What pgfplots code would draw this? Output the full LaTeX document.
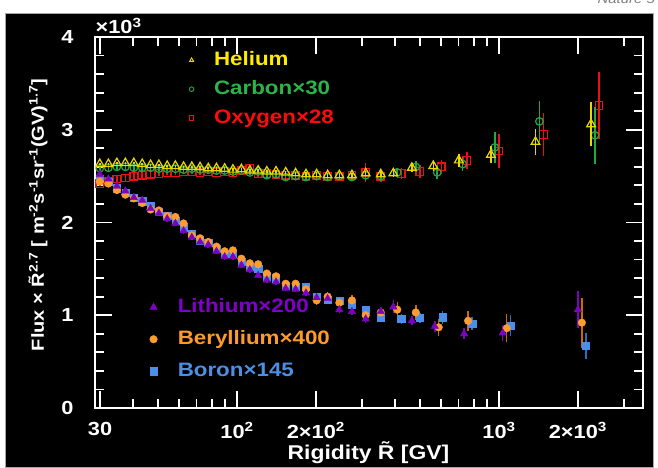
\documentclass[border=0pt]{standalone}
\usepackage{fontspec}
\setmainfont{Liberation Sans}[FakeStretch=1.15]
\usepackage{pgfplots}
\pgfplotsset{compat=1.18}
\usepackage{pgfplotstable}
\definecolor{heC}{HTML}{E8D800}
\definecolor{cC}{HTML}{22A83E}
\definecolor{oC}{HTML}{EE1010}
\definecolor{liC}{HTML}{7B05BF}
\definecolor{beC}{HTML}{FF9C2E}
\definecolor{beE}{HTML}{CC6A00}
\definecolor{bC}{HTML}{4B8FEA}
\definecolor{bE}{HTML}{2E6CC4}
\definecolor{heT}{HTML}{FFEB00}
\definecolor{cT}{HTML}{2DB34A}
\definecolor{oT}{HTML}{FF0A0A}
\definecolor{liT}{HTML}{8000C8}
\definecolor{beT}{HTML}{FF9A2A}
\definecolor{bT}{HTML}{4C8FE6}

\pgfplotstableread{
x y e
29.93 2.63 0.012
32.28 2.63 0.012
34.78 2.64 0.012
37.47 2.64 0.012
40.37 2.64 0.012
43.47 2.63 0.012
46.77 2.62 0.012
50.32 2.62 0.012
54.12 2.61 0.012
58.16 2.61 0.013
62.51 2.60 0.013
67.21 2.60 0.013
72.25 2.595 0.013
77.65 2.585 0.013
83.45 2.585 0.014
89.69 2.58 0.014
96.44 2.57 0.014
103.9 2.575 0.015
111.9 2.56 0.015
120.4 2.56 0.016
129.9 2.55 0.016
140.9 2.55 0.017
153.4 2.54 0.018
167.3 2.53 0.019
183.3 2.52 0.02
201.3 2.52 0.021
221.7 2.51 0.022
245.7 2.51 0.024
274.5 2.51 0.026
309.9 2.53 0.028
353.7 2.52 0.03
394.9 2.53 0.035
464.8 2.59 0.045
561.2 2.61 0.05
702.3 2.67 0.07
931 2.73 0.09
1377.5 2.87 0.14
2245 3.06 0.24
}\He
\pgfplotstableread{
x y e
29.93 2.585 0.03
32.28 2.59 0.03
34.78 2.60 0.03
37.47 2.60 0.03
40.37 2.59 0.03
43.47 2.59 0.03
46.77 2.59 0.03
50.32 2.58 0.03
54.12 2.58 0.03
58.16 2.58 0.03
62.51 2.57 0.03
67.21 2.58 0.03
72.25 2.57 0.03
77.65 2.57 0.03
83.45 2.56 0.03
89.69 2.56 0.03
96.44 2.55 0.03
103.9 2.56 0.03
111.9 2.54 0.03
120.4 2.55 0.03
129.9 2.51 0.03
140.9 2.52 0.03
153.4 2.49 0.035
167.3 2.50 0.035
183.3 2.49 0.035
201.3 2.50 0.04
221.7 2.49 0.04
245.7 2.50 0.04
274.5 2.49 0.045
309.9 2.51 0.05
353.7 2.50 0.05
408.8 2.54 0.05
481.2 2.60 0.06
581 2.54 0.07
727 2.63 0.08
963.8 2.81 0.17
1426 3.09 0.22
2324 2.94 0.31
}\Ca
\pgfplotstableread{
x y e
29.93 2.42 0.03
32.28 2.44 0.03
34.78 2.47 0.03
37.47 2.48 0.03
40.37 2.50 0.03
43.47 2.51 0.03
46.77 2.52 0.03
50.32 2.53 0.03
54.12 2.54 0.03
58.16 2.54 0.03
62.51 2.55 0.03
67.21 2.55 0.03
72.25 2.54 0.03
77.65 2.55 0.03
83.45 2.54 0.03
89.69 2.55 0.03
96.44 2.54 0.035
103.9 2.56 0.035
111.9 2.585 0.04
120.4 2.53 0.04
129.9 2.53 0.04
140.9 2.52 0.04
153.4 2.51 0.04
167.3 2.51 0.045
183.3 2.50 0.045
201.3 2.51 0.05
221.7 2.50 0.05
245.7 2.50 0.05
274.5 2.51 0.055
309.9 2.54 0.1
353.7 2.50 0.06
423.5 2.53 0.06
498.5 2.55 0.065
601.9 2.60 0.075
753.2 2.67 0.09
998.5 2.77 0.18
1477.3 2.95 0.23
2407.7 3.26 0.36
}\Ox
\pgfplotstableread{
x y e
29.93 2.52 0.03
32.28 2.47 0.03
34.78 2.39 0.03
37.47 2.34 0.03
40.37 2.27 0.03
43.47 2.24 0.03
46.77 2.15 0.03
50.32 2.10 0.03
54.12 2.04 0.03
58.16 1.99 0.03
62.51 1.91 0.03
67.21 1.84 0.03
72.25 1.79 0.03
77.65 1.76 0.03
83.45 1.69 0.03
89.69 1.63 0.03
96.44 1.63 0.03
103.9 1.54 0.03
111.9 1.49 0.03
120.4 1.43 0.03
129.9 1.38 0.03
140.9 1.36 0.03
153.4 1.29 0.03
167.3 1.28 0.03
183.3 1.24 0.035
201.3 1.19 0.035
221.7 1.18 0.04
245.7 1.06 0.04
274.5 1.04 0.04
309.9 0.96 0.045
353.7 1.04 0.05
394.9 1.09 0.07
464.8 0.94 0.05
568.6 0.88 0.06
736.1 0.80 0.06
1033.2 0.81 0.085
2000.6 1.06 0.2
}\Li
\pgfplotstableread{
x y e
29.93 2.44 0.04
32.28 2.42 0.04
34.78 2.35 0.04
37.47 2.30 0.04
40.37 2.26 0.04
43.47 2.21 0.04
46.77 2.14 0.04
50.32 2.13 0.04
54.12 2.07 0.04
58.16 2.06 0.04
62.51 1.99 0.04
67.21 1.86 0.04
72.25 1.83 0.04
77.65 1.79 0.04
83.45 1.74 0.04
89.69 1.69 0.04
96.44 1.70 0.04
103.9 1.61 0.04
111.9 1.56 0.04
120.4 1.55 0.04
129.9 1.45 0.04
140.9 1.42 0.04
153.4 1.34 0.045
167.3 1.34 0.045
183.3 1.28 0.045
201.3 1.16 0.05
221.7 1.20 0.05
245.7 1.135 0.05
274.5 1.16 0.055
309.9 1.00 0.06
353.7 1.03 0.06
408.8 1.06 0.08
481.2 1.03 0.08
588.6 0.87 0.09
762 0.94 0.11
1069.6 0.86 0.15
2071 0.92 0.27
}\Be
\pgfplotstableread{
x y e
29.93 2.47 0.025
32.28 2.44 0.025
34.78 2.37 0.025
37.47 2.32 0.025
40.37 2.27 0.025
43.47 2.23 0.025
46.77 2.18 0.025
50.32 2.12 0.025
54.12 2.07 0.025
58.16 2.02 0.025
62.51 1.95 0.025
67.21 1.88 0.025
72.25 1.81 0.025
77.65 1.78 0.025
83.45 1.72 0.025
89.69 1.66 0.025
96.44 1.66 0.025
103.9 1.58 0.025
111.9 1.52 0.025
120.4 1.50 0.025
129.9 1.42 0.025
140.9 1.40 0.03
153.4 1.32 0.03
167.3 1.31 0.03
183.3 1.31 0.03
201.3 1.20 0.03
221.7 1.17 0.035
245.7 1.16 0.035
274.5 1.11 0.035
309.9 1.06 0.04
353.7 0.98 0.04
423.5 0.96 0.05
498.5 0.97 0.05
609.8 0.98 0.07
789.4 0.91 0.07
1108.1 0.89 0.11
2145.6 0.67 0.14
}\Bo

\newcommand\F[1]{\fontsize{#1}{#1}\selectfont\bfseries}

\pgfplotsset{
  legend image code/.code={\path (-5bp,-5bp) (5bp,5bp); \draw[#1] plot coordinates {(0bp,0bp)};},
}

\begin{document}
\begin{tikzpicture}
\useasboundingbox (0,0) rectangle (658bp,468bp);
\fill[white] (0,0) rectangle (658bp,468bp);
\filldraw[fill=black, draw=gray!70, line width=0.8bp] (5bp,1bp) rectangle (653bp,455bp);
\node[anchor=base east, text=gray, inner sep=0pt, font=\itshape\fontsize{13}{13}\selectfont] at (655bp,464bp) {Nature 5};

\begin{axis}[
  at={(95bp,60bp)}, anchor=south west,
  scale only axis, width=548bp, height=371bp,
  xmode=log, xmin=28.7, xmax=3545, ymin=0, ymax=4,
  clip mode=individual,
  axis line style={white, line width=2.2bp},
  tick style={white, line width=1.8bp},
  tick align=inside,
  major tick length=17bp, minor tick length=9bp,
  ytick={0,1,2,3,4}, yticklabels={0,1,2,3,4},
  minor y tick num=4,
  xtick={100,1000}, xticklabels={{10\textsuperscript{2}},{10\textsuperscript{3}}},
  minor xtick={30,40,50,60,70,80,90,200,300,400,500,600,700,800,900,2000,3000},
  extra x ticks={30,200,2000},
  extra x tick labels={30,{2×10\textsuperscript{2}},{2×10\textsuperscript{3}}},
  tick label style={text=white, font=\F{19}},
  xticklabel style={yshift=-11bp},
  yticklabel style={xshift=-18bp},
  xlabel={Rigidity \~{R} [GV]},
  xlabel style={text=white, font=\F{20}, at={(axis description cs:0.499,-0.121)}, anchor=center},
  ylabel={Flux × \~{R}\textsuperscript{2.7} [ m\textsuperscript{-2}s\textsuperscript{-1}sr\textsuperscript{-1}(GV)\textsuperscript{1.7}]},
  ylabel style={text=white, font=\F{17.5}, at={(axis description cs:-0.104,0.52)}, anchor=center},
  reverse legend,
  legend style={at={(rel axis cs:0.166,0.965)}, anchor=north west, draw=none, fill=none,
    inner sep=0pt, row sep=9bp, font=\F{19.5},
    nodes={inner sep=1bp, text height=14bp, text depth=4bp}},
  legend cell align=left,
  legend image post style={mark size=2.3bp, line width=0.9bp},
  /tikz/every odd column/.append style={column sep=16bp},
]
\addplot[only marks, mark=square, mark size=3.8bp, color=oC, line width=1.2bp,
  error bars/.cd, y dir=both, y explicit, error mark=none, error bar style={line width=1.5bp, oC}]
  table[x=x,y=y,y error=e]{\Ox};
\addlegendentry{\textcolor{oT}{Oxygen×28}}
\addplot[only marks, mark=o, mark size=3.8bp, color=cC, line width=1.2bp,
  error bars/.cd, y dir=both, y explicit, error mark=none, error bar style={line width=1.5bp, cC}]
  table[x=x,y=y,y error=e]{\Ca};
\addlegendentry{\textcolor{cT}{Carbon×30}}
\addplot[only marks, mark=triangle, mark size=5bp, color=heC, line width=1.2bp,
  error bars/.cd, y dir=both, y explicit, error mark=none, error bar style={line width=1.5bp, heC}]
  table[x=x,y=y,y error=e]{\He};
\addlegendentry{\textcolor{heT}{Helium}}
\node[text=white, font=\F{19}, inner sep=0pt] at (rel axis cs:0.043,1.03) {×10\textsuperscript{3}};
\end{axis}

\begin{axis}[
  at={(95bp,60bp)}, anchor=south west,
  scale only axis, width=548bp, height=371bp,
  xmode=log, xmin=28.7, xmax=3545, ymin=0, ymax=4,
  hide axis,
  reverse legend,
  legend style={at={(rel axis cs:0.097,0.299)}, anchor=north west, draw=none, fill=none,
    inner sep=0pt, row sep=12bp, font=\F{19.5},
    nodes={inner sep=1bp, text height=14bp, text depth=4bp}},
  legend cell align=left,
  /tikz/every odd column/.append style={column sep=18bp},
]
\addplot[only marks, mark=square*, mark size=3.6bp, color=bC,
  error bars/.cd, y dir=both, y explicit, error mark=none, error bar style={line width=1.5bp, bE}]
  table[x=x,y=y,y error=e]{\Bo};
\addlegendentry{\textcolor{bT}{Boron×145}}
\addplot[only marks, mark=*, mark size=3.8bp, color=beC,
  error bars/.cd, y dir=both, y explicit, error mark=none, error bar style={line width=1.5bp, beE}]
  table[x=x,y=y,y error=e]{\Be};
\addlegendentry{\textcolor{beT}{Beryllium×400}}
\addplot[only marks, mark=triangle*, mark size=4.3bp, color=liC,
  error bars/.cd, y dir=both, y explicit, error mark=none, error bar style={line width=1.5bp, liC}]
  table[x=x,y=y,y error=e]{\Li};
\addlegendentry{\textcolor{liT}{Lithium×200}}
\end{axis}
\end{tikzpicture}
\end{document}
